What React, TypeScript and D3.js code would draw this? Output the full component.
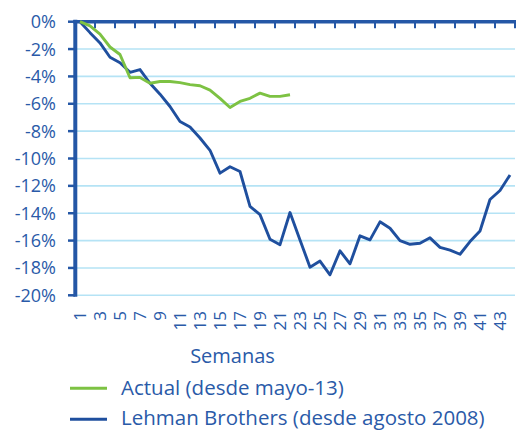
import React from "react";
import * as d3 from "d3";

const weeks = [1,2,3,4,5,6,7,8,9,10,11,12,13,14,15,16,17,18,19,20,21,22,23,24,25,26,27,28,29,30,31,32,33,34,35,36,37,38,39,40,41,42,43,44];
const tickLabels = [1,3,5,7,9,11,13,15,17,19,21,23,25,27,29,31,33,35,37,39,41,43];
const yTicks = [0,-2,-4,-6,-8,-10,-12,-14,-16,-18,-20];

const actual = [0,-0.3,-0.9,-1.85,-2.4,-4.1,-4.07,-4.5,-4.37,-4.37,-4.45,-4.6,-4.68,-5.0,-5.6,-6.27,-5.83,-5.6,-5.22,-5.46,-5.46,-5.34];
const lehman = [0,-0.8,-1.55,-2.6,-3.0,-3.7,-3.5,-4.5,-5.3,-6.2,-7.3,-7.7,-8.5,-9.4,-11.07,-10.6,-10.95,-13.5,-14.1,-15.9,-16.3,-13.95,-15.95,-17.95,-17.5,-18.5,-16.75,-17.7,-15.65,-15.95,-14.63,-15.1,-16.0,-16.27,-16.2,-15.8,-16.5,-16.7,-17.0,-16.07,-15.3,-13.0,-12.34,-11.2];

const seriesNames = ["Actual (desde mayo-13)", "Lehman Brothers (desde agosto 2008)"];
const xTitle = "Semanas";

const FONT = "'Open Sans', sans-serif";
const TEXT = "#2a5aa8";
const AXIS = "#2457a6";
const BLUE = "#1f4f9e";
const GREEN = "#7dc243";
const GRID = "#b5e3f5";

export default function App() {
  const W = 520, H = 430;
  const x = d3.scaleBand<number>().domain(weeks).range([75, 515]);
  const cx = (w: number) => (x(w) as number) + x.bandwidth() / 2;
  const y = d3.scaleLinear().domain([-20, 0]).range([295.3, 21.7]);
  const line = d3.line<number>().x((_, i) => cx(weeks[i])).y((d) => y(d));
  const tickXs = [...tickLabels.map((w) => x(w) as number), 515];

  return (
    <svg width={W} height={H} style={{ position: "absolute", left: 0, top: 0, background: "#fff" }} fontFamily={FONT}>
      {yTicks.slice(1).map((t) => (
        <line key={"g" + t} x1={75} x2={515} y1={y(t)} y2={y(t)} stroke={GRID} strokeWidth={1.6} />
      ))}
      {yTicks.map((t) => (
        <text key={"yl" + t} x={56} y={y(t)} dy="0.36em" textAnchor="end" fontSize={18} fill={TEXT}>
          {t + "%"}
        </text>
      ))}
      {yTicks.map((t) => (
        <line key={"yt" + t} x1={68} x2={75} y1={y(t)} y2={y(t)} stroke={AXIS} strokeWidth={2.5} />
      ))}
      {tickXs.map((tx, i) => (
        <line key={"xt" + i} x1={tx} x2={tx} y1={y(0)} y2={y(0) + 6.5} stroke={AXIS} strokeWidth={2} />
      ))}
      <line x1={75.3} x2={75.3} y1={y(0) - 2} y2={y(-20) + 1.5} stroke={AXIS} strokeWidth={4} />
      <line x1={73.3} x2={516} y1={y(0)} y2={y(0)} stroke={AXIS} strokeWidth={3.6} />
      <path d={line(lehman) || ""} fill="none" stroke={BLUE} strokeWidth={2.9} strokeLinejoin="round" />
      <path d={line(actual) || ""} fill="none" stroke={GREEN} strokeWidth={2.9} strokeLinejoin="round" />
      {tickLabels.map((w) => (
        <text key={"xl" + w} transform={`translate(${cx(w)},311) rotate(-90)`} dy="0.36em" textAnchor="end" fontSize={17} fill={TEXT}>
          {String(w)}
        </text>
      ))}
      <text x={232.5} y={362.7} textAnchor="middle" fontSize={20} fill={TEXT}>{xTitle}</text>
      <line x1={70} x2={107} y1={388.3} y2={388.3} stroke={GREEN} strokeWidth={3} />
      <text x={121} y={395} fontSize={20.5} fill={TEXT}>{seriesNames[0]}</text>
      <line x1={70} x2={107} y1={419.3} y2={419.3} stroke={BLUE} strokeWidth={3} />
      <text x={121} y={425} fontSize={20.5} fill={TEXT}>{seriesNames[1]}</text>
    </svg>
  );
}
